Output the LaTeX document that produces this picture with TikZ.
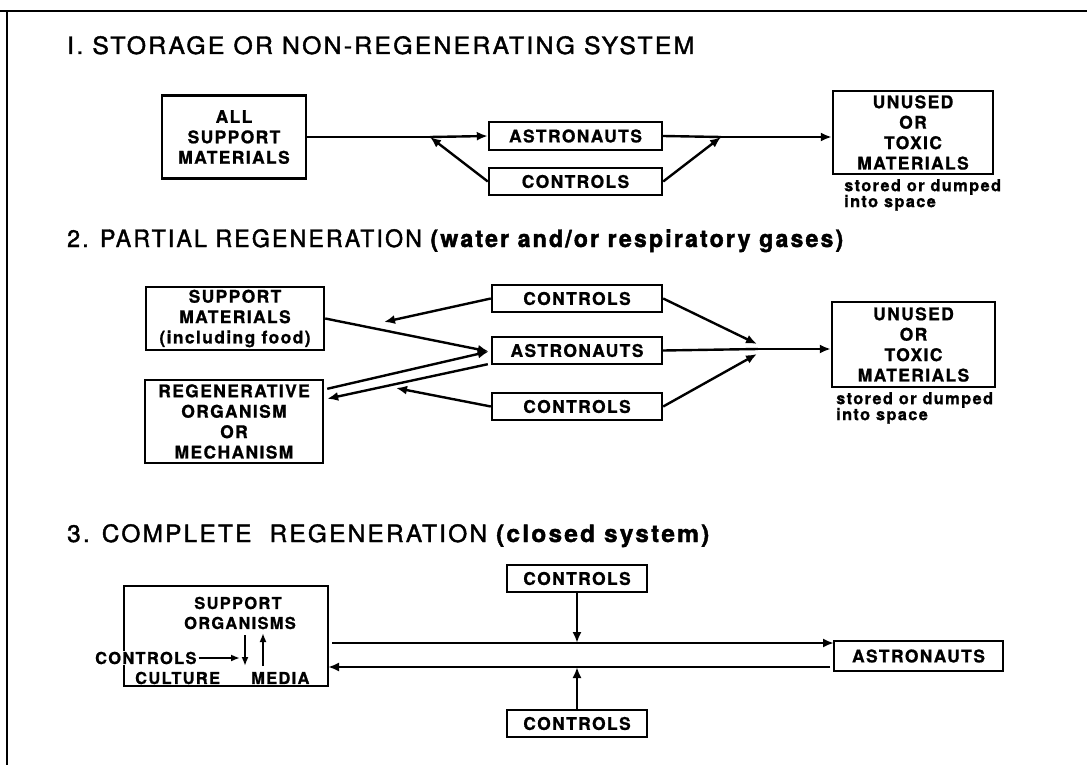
\documentclass[tikz,border=0pt]{standalone}
\usepackage{fontspec}
\usepackage{graphicx}
\usetikzlibrary{arrows.meta,calc}
\setmainfont{TeX Gyre Heros}
\newfontfamily\labelfont{TeX Gyre Heros}[LetterSpace=8,FakeBold=1]
\newfontfamily\headfont{TeX Gyre Heros}[LetterSpace=8,FakeStretch=0.86,FakeBold=1.5]
% stretch a heading to a given width, keeping its height
\newcommand\headline[2]{\resizebox{#1}{\height}{\headfont\fontsize{24}{28}\selectfont #2}}

\begin{document}
\begin{tikzpicture}[x=1bp,y=-1bp,
  line width=2.4bp,
  blockbox/.style={draw,line width=2.4bp,inner sep=0pt,align=center,
    font=\labelfont\bfseries\fontsize{17.5}{20.5}\selectfont},
  lbl/.style={inner sep=1pt,font=\labelfont\bfseries\fontsize{16.5}{20}\selectfont},
  note/.style={inner sep=0pt,align=left,anchor=north west,
    font=\labelfont\bfseries\fontsize{16.5}{16}\selectfont},
  heading/.style={inner sep=0pt,anchor=base west},
  flow/.style={-{Latex[length=11bp,width=9bp]}},
  smallflow/.style={line width=2bp,-{Latex[length=9bp,width=7bp]}}]

\useasboundingbox (0,0) rectangle (1087,765);

% frame
\draw[line width=2.6bp] (0,11) -- (1087,11);
\draw[line width=2.6bp] (7,11) -- (7,765);

% ---------------- 1. storage ----------------
\node[heading] (t1) at (66,54) {\headline{627bp}{I. STORAGE OR NON-REGENERATING SYSTEM}};

\node[blockbox,minimum width=144bp,minimum height=83bp] (allsup) at (234,137) {ALL\\SUPPORT\\MATERIALS};
\node[blockbox,minimum width=173bp,minimum height=28bp] (ast1) at (575.5,136) {ASTRONAUTS};
\node[blockbox,minimum width=173bp,minimum height=27bp] (con1) at (575.5,181.5) {CONTROLS};
\node[blockbox,minimum width=160bp,minimum height=83bp] (unu1) at (913,132.5) {UNUSED\\OR\\TOXIC\\MATERIALS};
\node[note] (st1) at (843,178) {stored or dumped\\into space};

\coordinate (j1) at (430,137);
\coordinate (j2) at (721,137);
\draw (allsup.east) -- (j1);
\draw[flow] (j1) -- (ast1.west);
\draw[flow] (con1.west) -- (j1);
\draw (ast1.east) -- (j2);
\draw[flow] (con1.east) -- (j2);
\draw[flow] (j2) -- (unu1.west |- j2);

% ---------------- 2. partial regeneration ----------------
\node[heading] (t2) at (66,247) {\headline{776bp}{2. PARTIAL REGENERATION {\bfseries(water and/or respiratory gases)}}};

\node[blockbox,minimum width=178bp,minimum height=63bp] (sup2) at (235,318.5) {SUPPORT\\MATERIALS\\(including food)};
\node[blockbox,minimum width=178bp,minimum height=83bp] (reg2) at (234,421.5) {REGENERATIVE\\ORGANISM\\OR\\MECHANISM};
\node[blockbox,minimum width=170bp,minimum height=27bp] (con2a) at (577,298.5) {CONTROLS};
\node[blockbox,minimum width=170bp,minimum height=27bp] (ast2) at (577,350.5) {ASTRONAUTS};
\node[blockbox,minimum width=170bp,minimum height=27bp] (con2b) at (577,406.5) {CONTROLS};
\node[blockbox,minimum width=163bp,minimum height=85bp] (unu2) at (913.5,344.5) {UNUSED\\OR\\TOXIC\\MATERIALS};
\node[note] (st2) at (835,391) {stored or dumped\\into space};

\coordinate (astin) at ($(ast2.west)+(-2,1)$);
\coordinate (astout) at ($(ast2.south west)+(-3,-1)$);
\coordinate (regin) at ($(reg2.north east)+(3,20)$);
\coordinate (regout) at ($(reg2.north east)+(3,10)$);
\coordinate (ca) at (384,322);
\coordinate (cb) at (396,388);
\coordinate (j3) at (758,349);
\coordinate (j3a) at (757,344);
\coordinate (j3b) at (757,354);

\draw[flow] (sup2.east) -- (astin);
\draw[flow] (regout) -- (astin);
\draw[flow] (astout) -- (regin);
\draw[flow] (con2a.west) -- (ca);
\draw[flow] (con2b.west) -- (cb);
\draw (ast2.east) -- (j3);
\draw[flow] (con2a.east) -- (j3a);
\draw[flow] (con2b.east) -- (j3b);
\draw[flow] (j3) -- (unu2.west |- j3);

% ---------------- 3. complete regeneration ----------------
\node[heading] (t3) at (66,542) {\headline{642bp}{3. COMPLETE~~REGENERATION {\bfseries(closed system)}}};

\node[draw,line width=2.4bp,minimum width=204bp,minimum height=100bp,inner sep=0pt] (cult) at (226,636) {};
\node[lbl] (so) at (238,603) {SUPPORT};
\node[lbl] (org) at (240,623) {ORGANISMS};
\node[lbl,fill=white,anchor=west,inner sep=1pt] (c3) at (93,658) {CONTROLS};
\node[lbl,anchor=west] (cu) at (133,678) {CULTURE};
\node[lbl,anchor=west] (me) at (249,678) {MEDIA};
\coordinate (dn1) at (245,635);
\coordinate (dn2) at (245,666);
\coordinate (up1) at (263,666);
\coordinate (up2) at (263,633);
\coordinate (cin) at (240,658);
\draw[smallflow] (c3.east) -- (cin);
\draw[smallflow] (dn1) -- (dn2);
\draw[smallflow] (up1) -- (up2);

\node[blockbox,minimum width=140bp,minimum height=27bp] (con3a) at (577,578.5) {CONTROLS};
\node[blockbox,minimum width=140bp,minimum height=27bp] (con3b) at (577,723.5) {CONTROLS};
\node[blockbox,minimum width=169bp,minimum height=30bp] (ast3) at (918.5,656) {ASTRONAUTS};

\coordinate (topl) at (332,643);
\coordinate (topr) at (834,643);
\coordinate (botr) at (830,667);
\coordinate (botl) at (328,667);
\draw[flow] (topl) -- (topr);
\draw[flow] (botr) -- (botl);
\draw[flow] (con3a.south) -- (con3a.south |- topl);
\draw[flow] (con3b.north) -- (con3b.north |- botl);

\end{tikzpicture}
\end{document}
